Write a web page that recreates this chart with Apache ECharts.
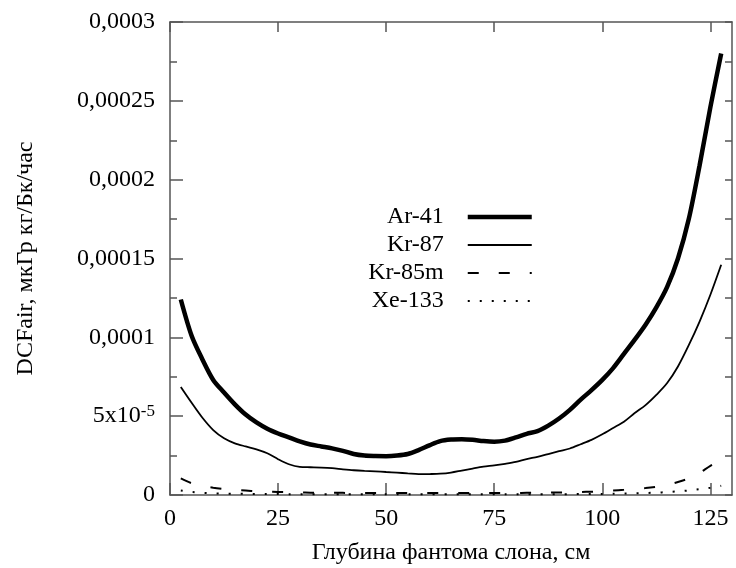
<!DOCTYPE html>
<html>
<head>
<meta charset="utf-8">
<script src="https://cdn.jsdelivr.net/npm/echarts@6/dist/echarts.min.js"></script>
<style>
  html, body { margin: 0; padding: 0; background: #fff; }
  #chart { width: 736px; height: 568px; }
</style>
</head>
<body>
<div id="chart"></div>
<script>
// Depth in the elephant phantom, cm
const depth = [2.5, 5, 7.5, 10, 12.5, 15, 17.5, 20, 22.5, 25, 27.5, 30, 32.5, 35, 37.5, 40,
  42.5, 45, 47.5, 50, 52.5, 55, 57.5, 60, 62.5, 65, 67.5, 70, 72.5, 75, 77.5, 80, 82.5, 85,
  87.5, 90, 92.5, 95, 97.5, 100, 102.5, 105, 107.5, 110, 112.5, 115, 117.5, 120, 122.5, 125, 127.5];

// DCFair, µGy·kg/Bq/h
const ar41 = [1.24e-4, 1.01e-4, 8.6e-5, 7.3e-5, 6.5e-5, 5.75e-5, 5.1e-5, 4.6e-5, 4.2e-5, 3.9e-5,
  3.65e-5, 3.4e-5, 3.2e-5, 3.08e-5, 2.96e-5, 2.8e-5, 2.6e-5, 2.5e-5, 2.47e-5, 2.46e-5,
  2.5e-5, 2.6e-5, 2.85e-5, 3.15e-5, 3.42e-5, 3.52e-5, 3.54e-5, 3.5e-5, 3.42e-5, 3.38e-5,
  3.45e-5, 3.65e-5, 3.88e-5, 4.05e-5, 4.4e-5, 4.85e-5, 5.4e-5, 6.05e-5, 6.65e-5, 7.3e-5,
  8.05e-5, 8.95e-5, 9.85e-5, 1.08e-4, 1.19e-4, 1.32e-4, 1.5e-4, 1.75e-4, 2.09e-4, 2.46e-4, 2.80e-4];

const kr87 = [6.85e-5, 5.85e-5, 4.9e-5, 4.12e-5, 3.6e-5, 3.28e-5, 3.08e-5, 2.9e-5, 2.65e-5, 2.27e-5,
  1.95e-5, 1.78e-5, 1.76e-5, 1.74e-5, 1.7e-5, 1.63e-5, 1.57e-5, 1.53e-5, 1.5e-5, 1.46e-5,
  1.42e-5, 1.37e-5, 1.32e-5, 1.33e-5, 1.35e-5, 1.42e-5, 1.55e-5, 1.68e-5, 1.8e-5, 1.88e-5,
  1.98e-5, 2.1e-5, 2.28e-5, 2.42e-5, 2.6e-5, 2.78e-5, 2.95e-5, 3.22e-5, 3.5e-5, 3.85e-5,
  4.25e-5, 4.65e-5, 5.2e-5, 5.7e-5, 6.35e-5, 7.1e-5, 8.15e-5, 9.5e-5, 1.1e-4, 1.27e-4, 1.46e-4];

const kr85m = [1.05e-5, 7.5e-6, 5.8e-6, 4.6e-6, 3.8e-6, 3.2e-6, 2.8e-6, 2.4e-6, 2.1e-6, 1.9e-6,
  1.75e-6, 1.6e-6, 1.5e-6, 1.45e-6, 1.4e-6, 1.35e-6, 1.3e-6, 1.3e-6, 1.3e-6, 1.3e-6,
  1.3e-6, 1.3e-6, 1.3e-6, 1.3e-6, 1.3e-6, 1.3e-6, 1.3e-6, 1.3e-6, 1.3e-6, 1.3e-6,
  1.3e-6, 1.3e-6, 1.35e-6, 1.4e-6, 1.5e-6, 1.6e-6, 1.75e-6, 1.9e-6, 2.1e-6, 2.4e-6,
  2.8e-6, 3.3e-6, 3.9e-6, 4.4e-6, 5.2e-6, 6.4e-6, 8.2e-6, 1.05e-5, 1.4e-5, 1.85e-5, 2.2e-5];

const xe133 = [2.8e-6, 1.9e-6, 1.4e-6, 1.1e-6, 9e-7, 8e-7, 7e-7, 6.5e-7, 6e-7, 6e-7,
  5.5e-7, 5e-7, 5e-7, 5e-7, 5e-7, 5e-7, 5e-7, 5e-7, 5e-7, 5e-7,
  5e-7, 5e-7, 5e-7, 5e-7, 5e-7, 5e-7, 5e-7, 5e-7, 5e-7, 5e-7,
  5e-7, 5e-7, 5e-7, 5e-7, 5e-7, 5e-7, 5.5e-7, 6e-7, 6.5e-7, 7e-7,
  8e-7, 9e-7, 1.05e-6, 1.25e-6, 1.5e-6, 1.85e-6, 2.3e-6, 2.9e-6, 3.7e-6, 4.6e-6, 5.8e-6];

const seriesNames = ['Ar-41', 'Kr-87', 'Kr-85m', 'Xe-133'];
const xTicks = [0, 25, 50, 75, 100, 125];
const yTickLabels = ['0', '5x10^-5', '0,0001', '0,00015', '0,0002', '0,00025', '0,0003'];

const FONT = 'Liberation Serif';
const AXIS_COLOR = '#555';

const pairs = (vals) => depth.map((d, i) => [d, vals[i]]);

const chart = echarts.init(document.getElementById('chart'));

const frameLine = { show: true, onZero: false, lineStyle: { color: AXIS_COLOR, width: 1.5 } };
const tickLine = { color: AXIS_COLOR, width: 1.5 };

chart.setOption({
  backgroundColor: '#fff',
  animation: false,
  grid: { left: 170, right: 4, top: 22, bottom: 73, outerBoundsMode: 'none', containLabel: false },
  legend: {
    orient: 'vertical',
    right: 202,
    top: 205,
    padding: 0,
    align: 'right',
    itemWidth: 64,
    itemHeight: 14,
    itemGap: 4,
    data: seriesNames,
    itemStyle: { opacity: 0 },
    lineStyle: { width: 'inherit' },
    textStyle: {
      fontFamily: FONT, fontSize: 24, color: '#000', lineHeight: 24,
      padding: [0, 19, 0, 0]
    }
  },
  xAxis: [
    {
      type: 'value', position: 'bottom', min: 0, max: 130,
      name: 'Глубина фантома слона, см',
      nameLocation: 'middle', nameGap: 46,
      nameTextStyle: { fontFamily: FONT, fontSize: 24, color: '#000' },
      axisLine: frameLine,
      axisTick: { inside: true, length: 12, customValues: xTicks, lineStyle: tickLine },
      axisLabel: { customValues: xTicks, margin: 12, fontFamily: FONT, fontSize: 24, color: '#000' },
      splitLine: { show: false }
    },
    {
      type: 'value', position: 'top', min: 0, max: 130,
      axisLine: frameLine,
      axisTick: { inside: true, length: 10, customValues: xTicks, lineStyle: tickLine },
      axisLabel: { show: false },
      splitLine: { show: false }
    }
  ],
  yAxis: [
    {
      type: 'value', position: 'left', min: 0, max: 0.0003, interval: 0.00005,
      name: 'DCFair, мкГр кг/Бк/час',
      nameLocation: 'middle', nameGap: 132,
      nameTextStyle: { fontFamily: FONT, fontSize: 24, color: '#000' },
      axisLine: frameLine,
      axisTick: { inside: true, length: 13, lineStyle: tickLine },
      minorTick: { show: true, splitNumber: 2, length: 7, lineStyle: tickLine },
      axisLabel: {
        margin: 15, fontFamily: FONT, fontSize: 24, color: '#000',
        formatter: (v) => {
          const label = yTickLabels[Math.round(v / 0.00005)] || '';
          return label.replace(/\^(.+)$/, '{sup|$1}');
        },
        rich: {
          sup: { fontFamily: FONT, fontSize: 17, color: '#000', verticalAlign: 'top', padding: [0, 0, 10, 0] }
        }
      },
      splitLine: { show: false }
    },
    {
      type: 'value', position: 'right', min: 0, max: 0.0003, interval: 0.000025,
      axisLine: frameLine,
      axisTick: { inside: true, length: 7, lineStyle: tickLine },
      axisLabel: { show: false },
      splitLine: { show: false }
    }
  ],
  series: [
    {
      name: 'Ar-41', type: 'line', data: pairs(ar41), smooth: 0.3,
      symbol: 'none', lineStyle: { color: '#000', width: 4.5 }, itemStyle: { color: '#000' }
    },
    {
      name: 'Kr-87', type: 'line', data: pairs(kr87), smooth: 0.3,
      symbol: 'none', lineStyle: { color: '#000', width: 1.8 }, itemStyle: { color: '#000' }
    },
    {
      name: 'Kr-85m', type: 'line', data: pairs(kr85m), smooth: 0.3,
      symbol: 'none', lineStyle: { color: '#000', width: 2, type: [11, 20] }, itemStyle: { color: '#000' }
    },
    {
      name: 'Xe-133', type: 'line', data: pairs(xe133), smooth: 0.3,
      symbol: 'none', lineStyle: { color: '#000', width: 2, type: [2, 10] }, itemStyle: { color: '#000' }
    }
  ]
});
</script>
</body>
</html>
